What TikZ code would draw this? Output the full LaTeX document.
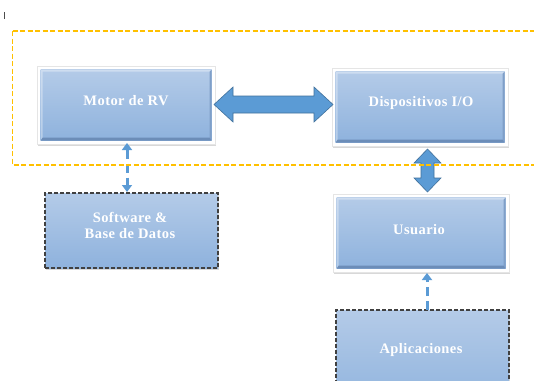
\documentclass[tikz,border=0pt]{standalone}
\usepackage{fontspec}
\setmainfont[LetterSpace=3]{Liberation Serif}
\usetikzlibrary{shadows,arrows.meta,calc}
\definecolor{boxtop}{HTML}{B4CBE8}
\definecolor{boxbot}{HTML}{8EB2DD}
\definecolor{boxedge}{HTML}{6C8DB8}
\definecolor{boxedgeR}{HTML}{7F9FC8}
\definecolor{arrowblue}{HTML}{5B9BD5}
\definecolor{arrowedge}{HTML}{41719C}
\definecolor{goldline}{HTML}{FFC000}
\definecolor{dashgray}{HTML}{404040}
\newcommand\bevelbox[1]{%
  \shade[top color=boxtop,bottom color=boxbot]
    ([shift={(3.5,3.5)}]#1.north west) rectangle ([shift={(-3.5,-3.5)}]#1.south east);
  \fill[boxedgeR] ([shift={(-3.5,-3.5)}]#1.south east) -- ([shift={(-3.5,3.5)}]#1.north east)
    -- ([shift={(-5.5,5.5)}]#1.north east) -- ([shift={(-5.5,-6.5)}]#1.south east) -- cycle;
  \fill[boxedge] ([shift={(3.5,-3.5)}]#1.south west) -- ([shift={(-3.5,-3.5)}]#1.south east)
    -- ([shift={(-5.5,-6.5)}]#1.south east) -- ([shift={(5.5,-6.5)}]#1.south west) -- cycle;
  \fill[white,opacity=0.35] ([shift={(3.5,3.5)}]#1.north west) -- ([shift={(-3.5,3.5)}]#1.north east)
    -- ([shift={(-5.5,5.5)}]#1.north east) -- ([shift={(5.5,5.5)}]#1.north west)
    -- ([shift={(5.5,-6.5)}]#1.south west) -- ([shift={(3.5,-3.5)}]#1.south west) -- cycle;
}
\begin{document}
\begin{tikzpicture}[x=1pt,y=-1pt,
  frame/.style={draw=black!10, line width=0.6pt, fill=white, inner sep=0pt, outer sep=0pt,
    drop shadow={opacity=0.3, shadow xshift=1.2pt, shadow yshift=-1.5pt}},
  dbox/.style={draw=dashgray, line width=1.1pt, dash pattern=on 4pt off 2pt,
    top color=boxtop, bottom color=boxbot, inner sep=0pt, outer sep=0pt,
    drop shadow={opacity=0.3, shadow xshift=1.2pt, shadow yshift=-1.5pt}},
  txt/.style={text=white, font=\bfseries\fontsize{14.5}{16}\selectfont, align=center, inner sep=0pt},
  blockarrow/.style={fill=arrowblue, draw=arrowedge, line width=0.6pt, line join=miter},
  dasharrow/.style={draw=arrowblue, line width=3pt, dash pattern=on 9pt off 5pt}
]
\clip (0,0) rectangle (534,380);
\fill[white] (0,0) rectangle (534,380);

% cursor mark
\draw[black!70, line width=0.7pt] (4.5,12) -- (4.5,19);

% framed boxes
\node[frame, minimum width=178pt, minimum height=78pt] (motor) at (126,105) {};
\bevelbox{motor}
\node[frame, minimum width=176pt, minimum height=78pt] (disp) at (420,107) {};
\bevelbox{disp}
\node[frame, minimum width=176pt, minimum height=78pt] (usuario) at (421,233) {};
\bevelbox{usuario}

% dashed boxes
\node[dbox, minimum width=173pt, minimum height=75pt] (software) at (131.5,230.5) {};
\node[dbox, minimum width=173pt, minimum height=100pt] (aplic) at (422.5,360) {};

% texts
\node[txt] (motorT) at (126,101) {Motor de RV};
\node[txt] (dispT) at (421,103) {Dispositivos I/O};
\node[txt] (usuarioT) at (419,230) {Usuario};
\node[txt] (softwareT) at (130,225) {Software \&\\Base de Datos};
\node[txt] (aplicT) at (421,350) {Aplicaciones};

% horizontal block arrow
\coordinate (L) at ($(motor.east)+(-1,-0.5)$);
\coordinate (R) at ($(disp.west |- motor.east)+(1,-0.5)$);
\draw[blockarrow] (L) -- ($(L)+(19,-17.5)$) -- ($(L)+(19,-8.5)$) -- ($(R)+(-19,-8.5)$)
  -- ($(R)+(-19,-17.5)$) -- (R) -- ($(R)+(-19,17.5)$) -- ($(R)+(-19,8.5)$)
  -- ($(L)+(19,8.5)$) -- ($(L)+(19,17.5)$) -- cycle;

% vertical block arrow
\coordinate (T) at ($(disp.south)+(7.5,3)$);
\coordinate (B) at ($(usuario.north)+(6.5,-2)$);
\draw[blockarrow] (T) -- ($(T)+(13.5,14)$) -- ($(T)+(6.5,14)$) -- ($(B)+(6.5,-14)$)
  -- ($(B)+(13.5,-14)$) -- (B) -- ($(B)+(-13.5,-14)$) -- ($(B)+(-6.5,-14)$)
  -- ($(T)+(-6.5,14)$) -- ($(T)+(-13.5,14)$) -- cycle;

% dashed connectors
\draw[dasharrow, {Triangle[width=10pt,length=7pt]}-{Triangle[width=10pt,length=7pt]}]
  ($(motor.south)+(1,-1)$) -- ($(motor.south |- software.north)+(1,-1)$);
\draw[dasharrow, -{Triangle[width=10pt,length=7pt]}]
  ($(aplic.north)+(4.5,0)$) -- ($(usuario.south)+(6,1)$);

% orange group frame
\draw[goldline, line width=1.3pt, dash pattern=on 5pt off 2.5pt]
  (12.5,31) -- (12.5,165) -- (545,165) (12.5,31) -- (545,31);
\end{tikzpicture}
\end{document}
